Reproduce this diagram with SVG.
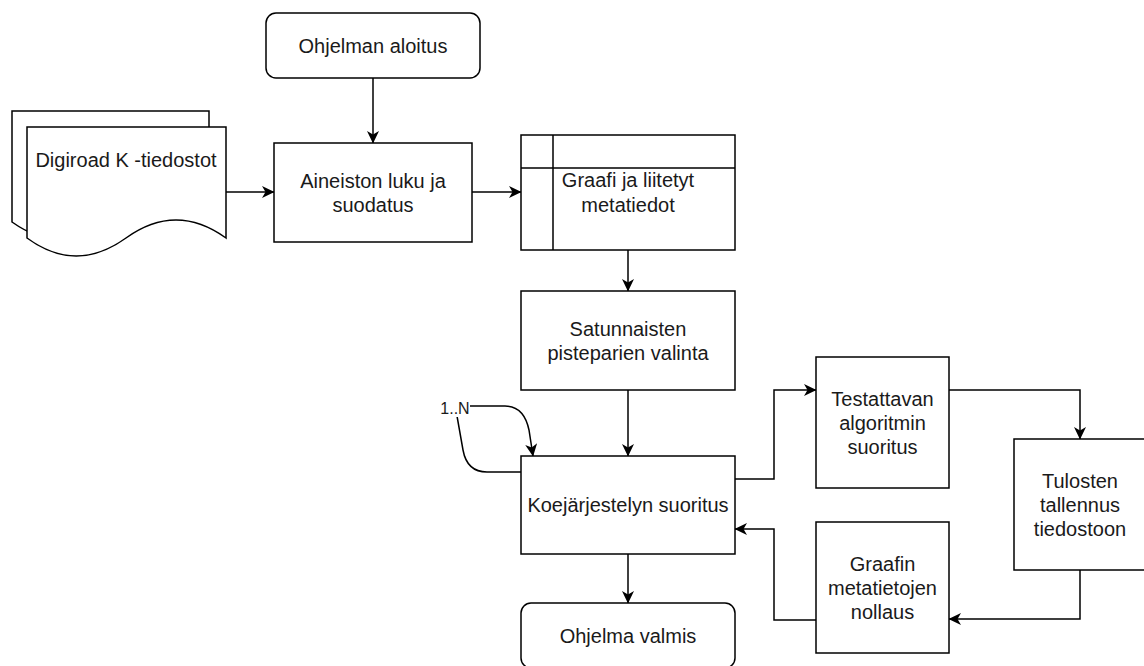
<svg xmlns="http://www.w3.org/2000/svg" width="1144" height="666" viewBox="0 0 1144 666">
<style>
.box{fill:#fff;stroke:#000;stroke-width:1.5}
.edge{fill:none;stroke:#000;stroke-width:1.5}
.t{font-family:"Liberation Sans",Arial,sans-serif;font-size:20px;fill:#1a1a1a;text-anchor:middle}
.lbl{font-family:"Liberation Sans",Arial,sans-serif;font-size:16px;fill:#1a1a1a;text-anchor:middle}
</style>
<defs>
<marker id="arr" markerUnits="userSpaceOnUse" markerWidth="13" markerHeight="12" viewBox="0 0 13 12" refX="12" refY="6" orient="auto">
<path d="M12.5,6 L0,0 L3.5,6 L0,12 Z" fill="#000"/>
</marker>
</defs>
<rect width="1144" height="666" fill="#fff"/>

<g id="connectors">
<path class="edge" marker-end="url(#arr)" d="M373,78 V143"/>
<path class="edge" marker-end="url(#arr)" d="M226,192 H274"/>
<path class="edge" marker-end="url(#arr)" d="M472,192 H521"/>
<path class="edge" marker-end="url(#arr)" d="M628,250 V291"/>
<path class="edge" marker-end="url(#arr)" d="M628,390 V456"/>
<path class="edge" marker-end="url(#arr)" d="M628,554 V603"/>
<path class="edge" marker-end="url(#arr)" d="M735,479 H774 V390 H816"/>
<path class="edge" marker-end="url(#arr)" d="M949,390 H1080 V439"/>
<path class="edge" marker-end="url(#arr)" d="M1080,570 V619 H949"/>
<path class="edge" marker-end="url(#arr)" d="M816,620 H774 V529 H735"/>
<path class="edge" marker-end="url(#arr)" d="M521,472 H487 Q467,472 463,450 L457,416 Q455,406 464,406 H505 Q524,406 529,430 L533,456"/>
<rect x="440" y="398" width="30" height="19" fill="#fff"/>
<text class="lbl" x="455" y="414">1..N</text>
</g>

<g id="start">
<rect class="box" x="266" y="13" width="214" height="65" rx="10"/>
<text class="t" x="373" y="53">Ohjelman aloitus</text>
</g>

<g id="digiroad">
<path class="box" d="M12,111 H209 V222 Q159,186 111,222 T12,222 Z"/>
<path class="box" d="M27,127 H226 V238 Q176,202 126,238 T27,238 Z"/>
<text class="t" x="126" y="167">Digiroad K -tiedostot</text>
</g>

<g id="aineisto">
<rect class="box" x="274" y="143" width="198" height="99"/>
<text class="t" x="373" y="188">Aineiston luku ja</text>
<text class="t" x="373" y="212">suodatus</text>
</g>

<g id="graafi">
<rect class="box" x="521" y="135" width="214" height="115"/>
<path class="edge" d="M553,135 V250 M521,168 H735"/>
<text class="t" x="628" y="187">Graafi ja liitetyt</text>
<text class="t" x="628" y="212">metatiedot</text>
</g>

<g id="satunnaiset">
<rect class="box" x="521" y="291" width="214" height="99"/>
<text class="t" x="628" y="336">Satunnaisten</text>
<text class="t" x="628" y="360">pisteparien valinta</text>
</g>

<g id="koe">
<rect class="box" x="521" y="456" width="214" height="98"/>
<text class="t" x="628" y="512">Koejärjestelyn suoritus</text>
</g>

<g id="valmis">
<rect class="box" x="521" y="603" width="214" height="65" rx="10"/>
<text class="t" x="628" y="643">Ohjelma valmis</text>
</g>

<g id="testattava">
<rect class="box" x="816" y="357" width="133" height="131"/>
<text class="t" x="882.5" y="406">Testattavan</text>
<text class="t" x="882.5" y="430">algoritmin</text>
<text class="t" x="882.5" y="454">suoritus</text>
</g>

<g id="tulokset">
<rect class="box" x="1014" y="439" width="133" height="131"/>
<text class="t" x="1080" y="488">Tulosten</text>
<text class="t" x="1080" y="512">tallennus</text>
<text class="t" x="1080" y="536">tiedostoon</text>
</g>

<g id="nollaus">
<rect class="box" x="816" y="522" width="133" height="131"/>
<text class="t" x="882.5" y="571">Graafin</text>
<text class="t" x="882.5" y="595">metatietojen</text>
<text class="t" x="882.5" y="619">nollaus</text>
</g>
</svg>
